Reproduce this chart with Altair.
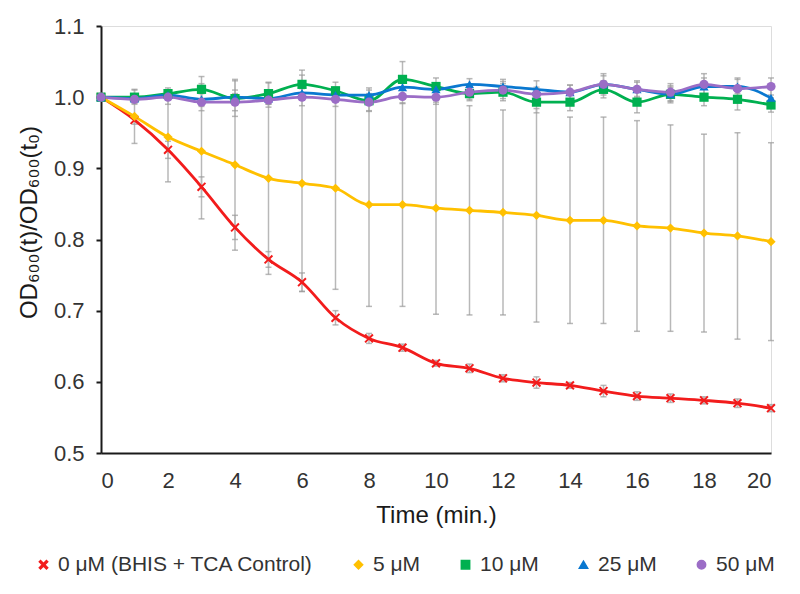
import altair as alt
import pandas as pd

time = list(range(21))
series_names = ["0 μM (BHIS + TCA Control)", "5 μM", "10 μM", "25 μM", "50 μM"]
colors = ["#F21C1C", "#FFC000", "#00B050", "#0A78D0", "#9B6DC6"]

red = [1.0, 0.968, 0.926, 0.874, 0.817, 0.772, 0.740, 0.690, 0.661, 0.648, 0.626,
       0.619, 0.605, 0.599, 0.595, 0.587, 0.580, 0.577, 0.574, 0.570, 0.563]
red_sd = [0.0, 0.006, 0.012, 0.014, 0.017, 0.011, 0.013, 0.010, 0.007, 0.005, 0.004,
          0.006, 0.005, 0.008, 0.004, 0.008, 0.006, 0.006, 0.005, 0.006, 0.005]

yellow = [1.0, 0.973, 0.944, 0.924, 0.905, 0.886, 0.879, 0.872, 0.849, 0.849, 0.844,
          0.841, 0.838, 0.834, 0.827, 0.827, 0.819, 0.816, 0.809, 0.805, 0.797]
yellow_sd = [0.0, 0.038, 0.063, 0.095, 0.120, 0.135, 0.152, 0.142, 0.143, 0.143, 0.149,
             0.147, 0.144, 0.150, 0.145, 0.145, 0.148, 0.145, 0.139, 0.145, 0.139]

green = [1.0, 1.0, 1.005, 1.011, 0.998, 1.005, 1.018, 1.009, 0.995, 1.025, 1.015,
         1.005, 1.007, 0.993, 0.993, 1.011, 0.993, 1.004, 1.0, 0.997, 0.989]
green_sd = [0.0, 0.010, 0.008, 0.018, 0.025, 0.015, 0.020, 0.012, 0.015, 0.025, 0.012,
            0.010, 0.012, 0.015, 0.012, 0.012, 0.015, 0.010, 0.012, 0.015, 0.010]

blue = [1.0, 0.998, 1.003, 0.997, 1.0, 0.998, 1.006, 1.003, 1.003, 1.014, 1.011,
        1.018, 1.015, 1.011, 1.007, 1.018, 1.011, 1.004, 1.015, 1.015, 0.999]
blue_sd = [0.0, 0.006, 0.006, 0.010, 0.010, 0.008, 0.010, 0.008, 0.010, 0.010, 0.008,
           0.008, 0.010, 0.012, 0.010, 0.012, 0.010, 0.012, 0.012, 0.010, 0.012]

purple = [1.0, 0.997, 1.0, 0.993, 0.993, 0.996, 1.0, 0.997, 0.993, 1.001, 1.0,
          1.007, 1.01, 1.004, 1.007, 1.018, 1.011, 1.007, 1.018, 1.012, 1.015]
purple_sd = [0.0, 0.005, 0.010, 0.012, 0.012, 0.010, 0.012, 0.010, 0.012, 0.010, 0.010,
             0.010, 0.012, 0.010, 0.010, 0.015, 0.012, 0.012, 0.015, 0.015, 0.012]

y_ticks = [0.5, 0.6, 0.7, 0.8, 0.9, 1.0, 1.1]
x_ticks = list(range(0, 21, 2))

all_vals = [red, yellow, green, blue, purple]
all_sd = [red_sd, yellow_sd, green_sd, blue_sd, purple_sd]

rows = []
for name, vals, sds in zip(series_names, all_vals, all_sd):
    for t, v, s in zip(time, vals, sds):
        rows.append({"t": t, "v": v, "lo": v - s, "hi": v + s, "series": name})
df = pd.DataFrame(rows)

x_shape = "M-1,-0.7L-0.7,-1L0,-0.3L0.7,-1L1,-0.7L0.3,0L1,0.7L0.7,1L0,0.3L-0.7,1L-1,0.7L-0.3,0Z"
shapes = [x_shape, "diamond", "square", "triangle-up", "circle"]

FONT = "Liberation Sans"

x_enc = alt.X("t:Q", scale=alt.Scale(domain=[0, 20], nice=False),
              axis=alt.Axis(values=x_ticks, title="Time (min.)", grid=False,
                            tickSize=0, labelPadding=17, labelFontSize=22,
                            titleFontSize=24, titleFontWeight="normal",
                            titleBaseline="middle", titleY=62,
                            domainColor="#1a1a1a", domainWidth=2,
                            labelColor="#333333", titleColor="#1a1a1a",
                            labelFont=FONT, titleFont=FONT))
y_scale = alt.Scale(domain=[0.5, 1.1], nice=False, zero=False)
y_enc = alt.Y("v:Q", scale=y_scale,
              axis=alt.Axis(values=y_ticks, format=".1f", grid=False,
                            title="OD₆₀₀(t)/OD₆₀₀(t₀)", tickSize=5, tickColor="#1a1a1a",
                            tickWidth=2, labelPadding=12, labelFontSize=22,
                            titleFontSize=24, titleFontWeight="normal",
                            titleAngle=-90, titleX=-72, titleY=196,
                            titleAlign="center", titleBaseline="middle",
                            domainColor="#1a1a1a", domainWidth=2,
                            labelColor="#333333", titleColor="#1a1a1a",
                            labelFont=FONT, titleFont=FONT))

legend = alt.Legend(orient="none", direction="horizontal",
                    legendX=-68, legendY=528, title=None,
                    labelFontSize=21, labelFont=FONT, labelLimit=400,
                    labelColor="#333333", columnPadding=34,
                    symbolSize=70, labelOffset=4, columns=5)
color_scale = alt.Scale(domain=series_names, range=colors)
color_enc = alt.Color("series:N", scale=color_scale, sort=series_names, legend=legend)
shape_enc = alt.Shape("series:N", scale=alt.Scale(domain=series_names, range=shapes),
                      sort=series_names, legend=legend)

base = alt.Chart(df)

err = base.mark_rule(color="#b8b8b8", strokeWidth=1.5).encode(
    x="t:Q", y=alt.Y("lo:Q", scale=y_scale), y2="hi:Q")
cap_lo = base.mark_tick(color="#9a9a9a", orient="horizontal", size=6, thickness=1.5).encode(
    x="t:Q", y=alt.Y("lo:Q", scale=y_scale))
cap_hi = base.mark_tick(color="#9a9a9a", orient="horizontal", size=6, thickness=1.5).encode(
    x="t:Q", y=alt.Y("hi:Q", scale=y_scale))

lines = base.mark_line(strokeWidth=2.8, interpolate="monotone").encode(
    x=x_enc, y=y_enc, color=color_enc, detail="series:N", order="t:Q")
points = base.mark_point(filled=True, size=85, opacity=1).encode(
    x="t:Q", y=alt.Y("v:Q", scale=y_scale), color=color_enc, shape=shape_enc)

chart = alt.layer(err, cap_lo, cap_hi, lines, points).properties(
    width=670, height=427,
    autosize=alt.AutoSizeParams(type="none"),
    padding={"left": 93, "top": 18, "right": 21, "bottom": 133},
).configure_view(stroke=None).configure(font=FONT)

chart.save("out.html", embed_options={"renderer": "svg", "actions": False})
